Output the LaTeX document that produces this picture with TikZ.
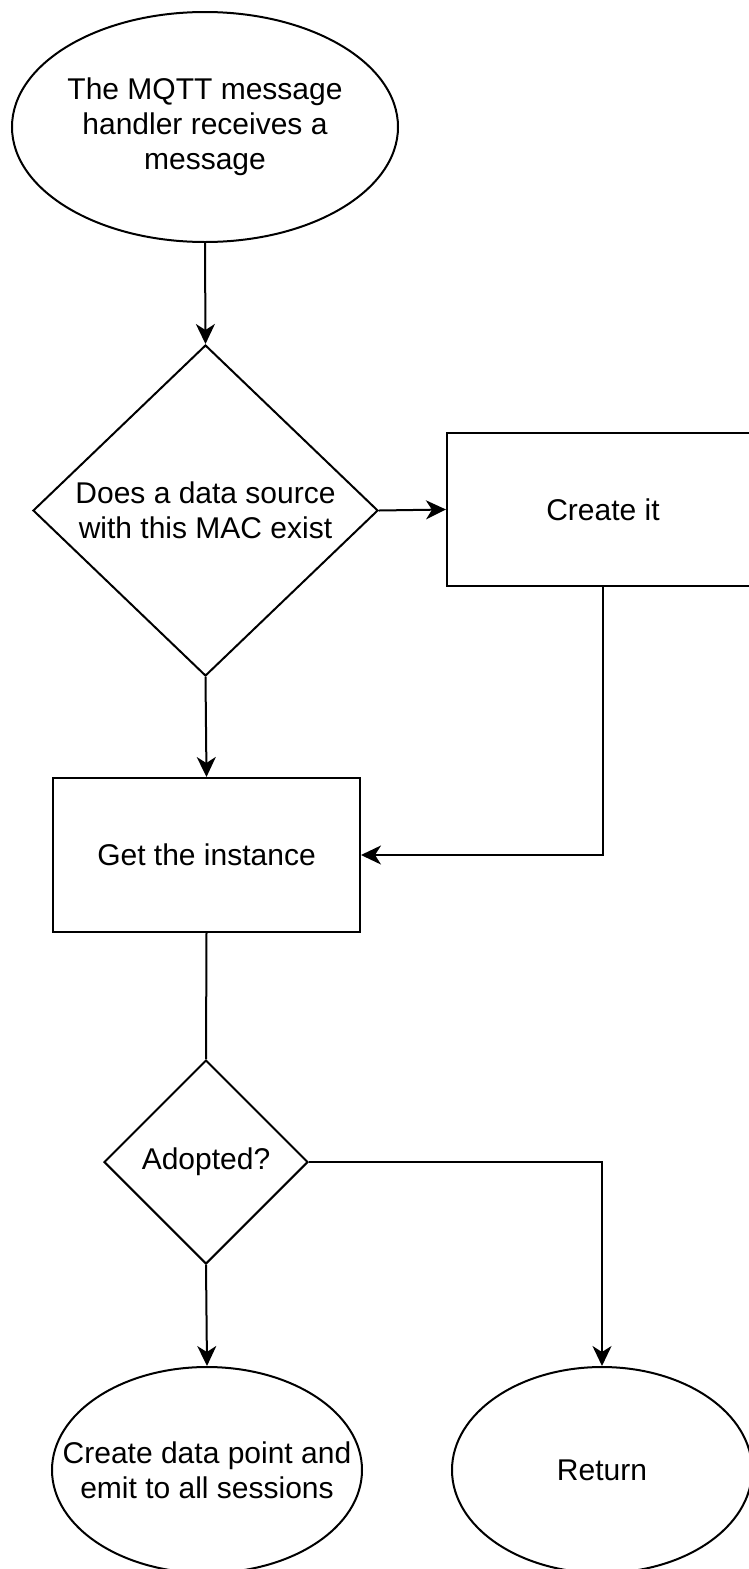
\documentclass[tikz,border=0pt]{standalone}
\usepackage{fontspec}
\setmainfont{Liberation Sans}
\usetikzlibrary{shapes.geometric,arrows.meta}
\begin{document}
\begin{tikzpicture}[x=1pt, y=-1pt, line width=2pt,
  oval/.style={ellipse, draw=black, line width=2pt, inner sep=0},
  rect/.style={rectangle, draw=black, line width=2pt, inner sep=0, font=\fontsize{30}{35}\selectfont, align=center},
  decision/.style={diamond, draw=black, line width=2pt, inner sep=0},
  txt/.style={inner sep=0, align=center, font=\fontsize{30}{35}\selectfont},
  arr/.style={-{Stealth[length=20pt, width=19pt, inset=6pt]}}]

\useasboundingbox [fill=white] (0,0) rectangle (749,1569);

\node [oval, minimum width=386, minimum height=230] (START) at (205, 127) {};
\node [decision, minimum width=345, minimum height=331] (EXIST) at (205.5, 510.5) {};
\node [rect, minimum width=312, minimum height=153] (CREATE) at (603, 509.5) {Create it};
\node [rect, minimum width=307, minimum height=154] (GET) at (206.5, 855) {Get the instance};
\node [decision, minimum width=204, minimum height=204] (ADOPT) at (206, 1162) {};
\node [oval, minimum width=310, minimum height=206] (EMIT) at (207, 1470) {};
\node [oval, minimum width=300, minimum height=206] (RET) at (602, 1470) {};

\node [txt] (STARTt) at (START) {The MQTT message\\handler receives a\\message};
\node [txt] (EXISTt) at (EXIST) {Does a data source\\with this MAC exist};
\node [txt] (ADOPTt) at (ADOPT) {Adopted?};
\node [txt] (EMITt) at (EMIT) {Create data point and\\emit to all sessions};
\node [txt] (RETt) at (RET) {Return};

\draw[arr] (START.south) -- (EXIST.north);
\draw[arr] (EXIST.east) -- (CREATE.west);
\draw[arr] (CREATE.south) |- (GET.east);
\draw[arr] (EXIST.south) -- (GET.north);
\draw (GET.south) -- (ADOPT.north);
\draw[arr] (ADOPT.east) -| (RET.north);
\draw[arr] (ADOPT.south) -- (EMIT.north);

\end{tikzpicture}
\end{document}
